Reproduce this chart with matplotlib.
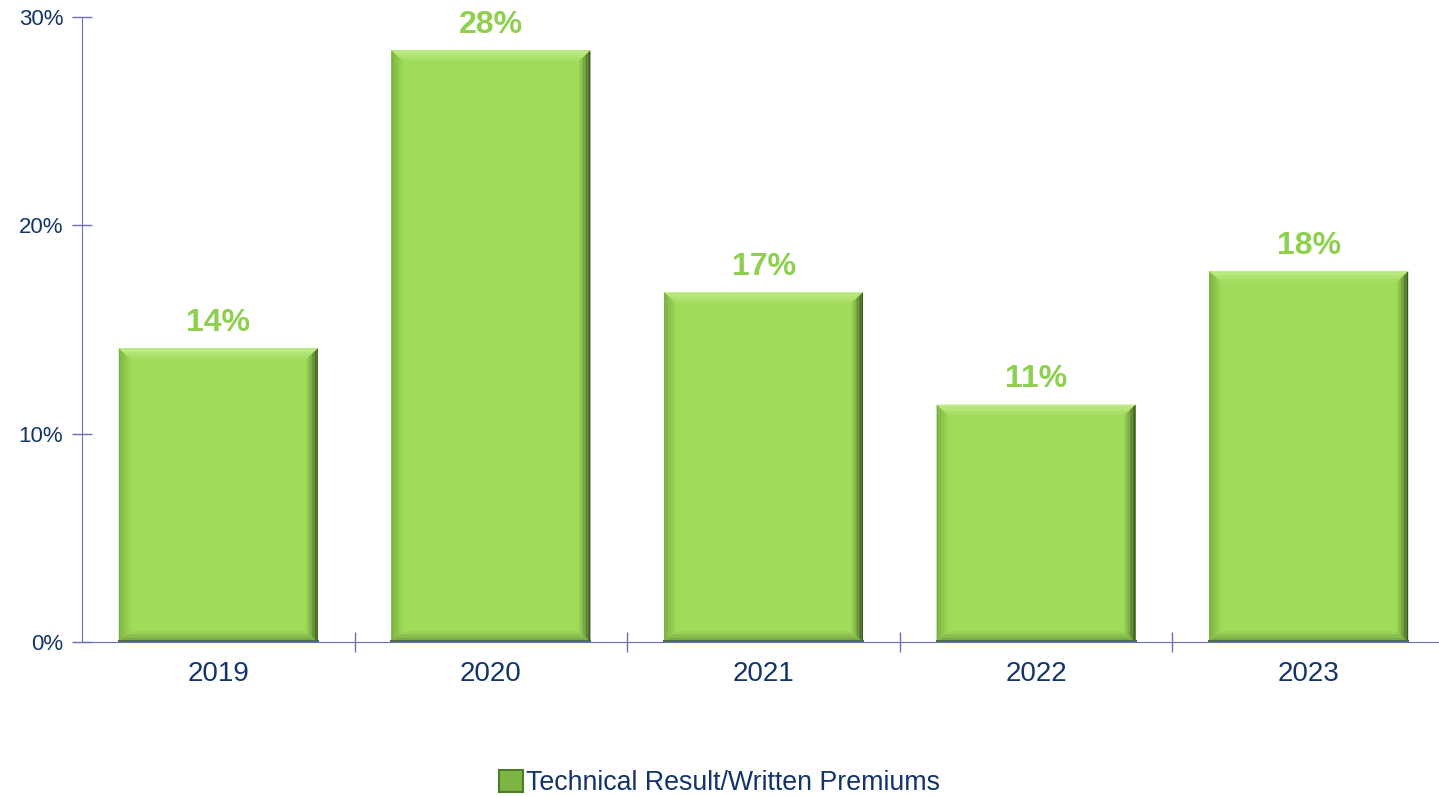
import numpy as np
import matplotlib.pyplot as plt
from matplotlib.colors import to_rgb
from matplotlib.patches import Polygon, Patch
from matplotlib.ticker import FuncFormatter, MultipleLocator

years = ['2019', '2020', '2021', '2022', '2023']
ratios = [14.1, 28.4, 16.8, 11.4, 17.8]
labels = ['14%', '28%', '17%', '11%', '18%']
series_name = 'Technical Result/Written Premiums'

navy = '#13346B'
axis_col = '#6A6FB8'
bar_col = '#A0DC5B'
label_col = '#8FCF4F'

plt.rcParams['font.family'] = ['Liberation Sans', 'DejaVu Sans']

fig = plt.figure(figsize=(14.39, 7.97), dpi=100)
ax = fig.add_axes([82 / 1439, 155 / 797, 1363 / 1439, 625 / 797])

x = list(range(len(years)))
width = 0.73
ax.bar(x, ratios, width=width, color=bar_col, zorder=2)
ax.set_xlim(-0.5, len(years) - 0.5)
ax.set_ylim(0, 30)


def mix(c1, c2, t):
    a, b = np.array(to_rgb(c1)), np.array(to_rgb(c2))
    return tuple(a + (b - a) * t)


# bevel sizes in data units (about 11 px)
px_x = 1363 / len(years)
px_y = 625 / 30
bx = 12 / px_x
by = 11 / px_y
n = 8
for xi, v in zip(x, ratios):
    l, r = xi - width / 2, xi + width / 2
    for k in range(n):
        f0, f1 = k / n, (k + 1) / n
        t = 1 - f0
        # right side: dark at the outer edge
        ax.add_patch(Polygon([(r - bx * f0, v - by * f0), (r - bx * f0, by * f0),
                              (r - bx * f1, by * f1), (r - bx * f1, v - by * f1)],
                             closed=True, fc=mix(bar_col, '#3A5520', t ** 1.3),
                             ec='none', zorder=3))
        # left side: a bit darker
        ax.add_patch(Polygon([(l + bx * f0, v - by * f0), (l + bx * f0, by * f0),
                              (l + bx * f1, by * f1), (l + bx * f1, v - by * f1)],
                             closed=True, fc=mix(bar_col, '#78B040', t),
                             ec='none', zorder=3))
        # top: lighter
        ax.add_patch(Polygon([(l + bx * f0, v - by * f0), (r - bx * f0, v - by * f0),
                              (r - bx * f1, v - by * f1), (l + bx * f1, v - by * f1)],
                             closed=True, fc=mix(bar_col, '#C4EC90', t),
                             ec='none', zorder=3))
        # bottom: darker
        ax.add_patch(Polygon([(l + bx * f0, by * f0), (r - bx * f0, by * f0),
                              (r - bx * f1, by * f1), (l + bx * f1, by * f1)],
                             closed=True, fc=mix(bar_col, '#6E9A3E', t),
                             ec='none', zorder=3))
    ax.plot([l, r], [0.05, 0.05], color='#4E6B4A', lw=1.5, zorder=4)
    ax.text(xi, v + 0.5, labels[xi], ha='center', va='bottom',
            fontsize=23, fontweight='bold', color=label_col)

ax.yaxis.set_major_locator(MultipleLocator(10))
ax.yaxis.set_major_formatter(FuncFormatter(lambda v, p: f'{v:.0f}%'))
ax.set_xticks(x)
ax.set_xticklabels(years)
ax.set_xticks([i + 0.5 for i in x[:-1]], minor=True)
ax.tick_params(axis='x', which='major', length=0, labelsize=20,
               labelcolor=navy, pad=14)
ax.tick_params(axis='x', which='minor', length=15, direction='inout',
               color=axis_col, width=1)
ax.tick_params(axis='y', length=15, direction='inout', color=axis_col,
               width=1, labelsize=16, labelcolor=navy, pad=6)

for s in ['top', 'right']:
    ax.spines[s].set_visible(False)
ax.spines['left'].set_color(axis_col)
ax.spines['bottom'].set_color(axis_col)

handle = Patch(facecolor='#7DB544', edgecolor='#4E7A2A', linewidth=1.5)
fig.legend([handle], [series_name], loc='center', bbox_to_anchor=(0.5, 1 - 783 / 797),
           frameon=False, fontsize=19.3, labelcolor=navy, handlelength=0.9,
           handleheight=0.9, handletextpad=0.1, borderpad=0)

fig.savefig('out.png', dpi=100)
